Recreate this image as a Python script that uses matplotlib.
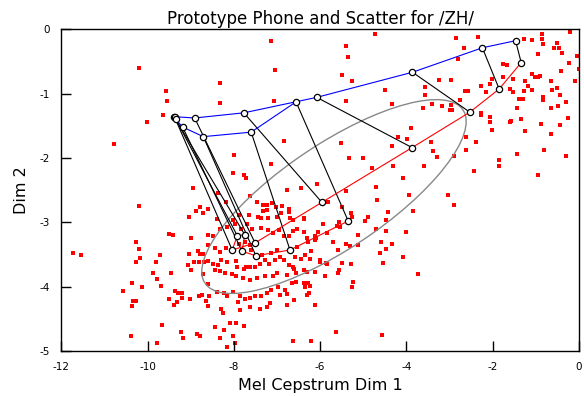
import numpy as np
import matplotlib
matplotlib.use("Agg")
import matplotlib.pyplot as plt
from matplotlib.patches import Ellipse

plt.rcParams['font.family'] = 'DejaVu Sans'
plt.rcParams['axes.unicode_minus'] = False

# prototype phone, 13 frames: upper track (blue) and lower track (red), frame i linked by a black line
blue_x = [-1.47, -2.24, -3.86, -6.08, -7.77, -8.91, -9.38, -9.37, -9.35, -9.19, -8.71, -7.60, -6.56]
blue_y = [-0.18, -0.29, -0.67, -1.06, -1.30, -1.38, -1.36, -1.37, -1.40, -1.52, -1.67, -1.60, -1.13]
red_x = [-1.34, -1.85, -2.53, -3.87, -5.96, -7.51, -8.04, -7.92, -7.75, -7.81, -7.49, -6.70, -5.35]
red_y = [-0.52, -0.93, -1.29, -1.84, -2.69, -3.32, -3.43, -3.21, -3.19, -3.45, -3.52, -3.43, -2.98]

# scatter of /ZH/ frames
upper_right = [
    (-2.86, -0.14), (-2.33, -0.13), (-2.67, -0.29), (-2.80, -0.47), (-0.85, -0.08), (-0.85, -0.15),
    (-0.83, -0.23), (-1.27, -0.15), (-1.10, -0.17), (-0.96, -0.39), (-0.52, -0.21), (-0.59, -0.29),
    (-0.47, -0.30), (-0.39, -0.37), (-0.23, -0.52), (-0.20, -0.05), (-0.05, -0.42), (-0.01, -0.62),
    (-0.10, -0.81), (-0.29, -1.13), (-0.42, -0.65), (-0.64, -0.80), (-0.62, -0.95), (-0.51, -0.92),
    (-0.45, -1.03), (-0.48, -1.20), (-0.66, -1.23), (-0.83, -1.05), (-0.83, -1.10), (-0.94, -0.75),
    (-0.90, -0.73), (-1.01, -0.75), (-1.08, -0.70), (-1.10, -0.94), (-1.24, -0.80), (-1.19, -0.89),
    (-1.27, -0.96), (-1.30, -1.08), (-1.38, -1.09), (-1.44, -1.23), (-1.59, -0.93), (-1.54, -0.98),
    (-1.52, -0.78), (-1.34, -1.40), (-1.24, -1.58), (-1.58, -1.42), (-1.61, -1.44), (-0.87, -1.48),
    (-0.64, -1.63), (-0.44, -1.49), (-0.25, -1.38), (-0.29, -1.97), (-0.80, -1.88), (-0.95, -2.27),
    (-1.75, -0.54), (-1.68, -0.56), (-1.75, -0.75), (-2.01, -0.77), (-2.06, -0.85), (-2.26, -0.88),
    (-2.15, -0.98), (-2.26, -1.31), (-2.27, -1.33), (-2.07, -1.37), (-2.06, -1.45), (-2.02, -1.56),
    (-2.64, -0.96), (-2.57, -0.96), (-2.76, -1.10), (-2.97, -0.79), (-3.25, -0.79), (-3.58, -0.90),
    (-3.57, -1.02), (-3.61, -1.22), (-3.41, -1.17), (-3.18, -1.20), (-2.96, -1.18), (-3.00, -1.26),
    (-2.95, -1.26), (-4.49, -0.94), (-4.34, -1.17), (-4.20, -1.68), (-3.99, -1.71), (-3.90, -1.54),
    (-4.33, -1.82), (-4.32, -2.12), (-4.09, -2.31), (-3.60, -2.13), (-3.39, -1.89), (-3.42, -1.75),
    (-3.29, -1.99), (-2.90, -1.97), (-2.61, -1.88), (-2.39, -1.76), (-2.63, -1.68), (-1.86, -2.04),
    (-1.85, -2.12), (-2.43, -2.20), (-1.44, -1.94),
]
lower_right = [
    (-3.95, -2.58), (-3.04, -2.57), (-2.89, -2.73), (-3.84, -2.82), (-4.42, -2.84), (-4.47, -2.96),
    (-4.47, -3.14), (-4.01, -3.15), (-4.60, -3.30), (-4.34, -3.34), (-4.47, -3.42), (-4.61, -3.47),
    (-4.08, -3.54), (-4.54, -3.63), (-3.73, -3.80), (-4.56, -4.75),
]
middle = [
    (-5.51, -1.77), (-5.33, -2.00), (-5.00, -2.00), (-4.79, -2.15), (-4.70, -2.45), (-5.40, -2.51),
    (-6.08, -2.41), (-6.45, -2.46), (-5.81, -2.68), (-5.49, -2.77), (-5.29, -2.86), (-5.26, -2.91),
    (-4.68, -2.66), (-4.88, -2.91), (-4.97, -2.98), (-4.71, -3.11), (-5.12, -3.19), (-5.56, -2.99),
    (-5.62, -3.05), (-5.53, -3.07), (-5.94, -3.02), (-6.37, -2.93), (-6.37, -2.95), (-6.05, -3.15),
    (-6.37, -3.15), (-6.11, -3.21), (-6.10, -3.24), (-6.30, -3.25),
]
upper_left = [
    (-7.13, -0.19), (-4.72, -0.08), (-5.39, -0.26), (-5.36, -0.44), (-5.50, -0.71), (-5.26, -0.80),
    (-7.05, -0.64), (-8.32, -0.84), (-9.57, -0.96), (-9.55, -1.12), (-9.65, -1.34), (-8.32, -1.14),
    (-7.06, -1.12), (-5.39, -1.12), (-6.84, -1.73), (-7.99, -1.96), (-7.14, -2.10), (-8.01, -2.24),
    (-7.77, -2.27), (-7.71, -2.31), (-10.20, -0.60), (-10.02, -1.45), (-10.77, -1.78),
]
lower_left = [
    (-8.94, -2.47), (-10.21, -2.75), (-8.78, -2.77), (-8.61, -2.79), (-8.89, -2.83), (-8.71, -2.85),
    (-9.03, -2.92), (-9.51, -3.18), (-9.41, -3.20), (-8.60, -3.19), (-9.00, -3.25), (-10.26, -3.30),
    (-10.21, -3.42), (-8.60, -3.36), (-11.74, -3.48), (-11.54, -3.51), (-9.72, -3.51), (-10.18, -3.55),
    (-10.26, -3.62), (-9.81, -3.62), (-9.03, -3.49), (-8.84, -3.45), (-8.79, -3.49), (-8.72, -3.49),
    (-8.70, -3.61), (-8.80, -3.61), (-8.93, -3.62), (-9.06, -3.67), (-9.00, -3.74), (-8.59, -3.60),
    (-9.87, -3.79), (-9.47, -3.78), (-9.79, -3.88), (-8.72, -3.81), (-10.36, -3.95), (-10.12, -4.00),
    (-9.68, -3.99), (-8.60, -3.96), (-10.56, -4.07), (-9.37, -4.06), (-9.20, -4.10), (-9.29, -4.10),
    (-8.82, -4.14), (-8.74, -4.13), (-8.58, -4.14), (-9.50, -4.19), (-9.20, -4.18), (-9.01, -4.19),
    (-10.34, -4.22), (-10.26, -4.22), (-9.32, -4.24), (-10.37, -4.30), (-9.38, -4.28), (-8.65, -4.22),
    (-8.59, -4.30), (-9.66, -4.59), (-10.38, -4.77), (-9.22, -4.70), (-8.86, -4.74), (-8.79, -4.77),
    (-9.18, -4.80), (-9.78, -4.88),
]
core = [
    (-8.36, -2.54), (-7.63, -2.59), (-6.78, -2.50), (-8.18, -2.69), (-7.47, -2.69), (-7.32, -2.73),
    (-7.23, -2.73), (-7.12, -2.70), (-7.03, -2.76), (-6.89, -2.74), (-7.32, -2.82), (-7.24, -2.81),
    (-6.72, -2.80), (-6.72, -2.84), (-8.40, -2.95), (-8.01, -2.96), (-7.88, -2.89), (-7.64, -2.89),
    (-7.43, -2.91), (-7.38, -2.93), (-7.20, -2.93), (-6.99, -2.92), (-6.90, -2.86), (-6.70, -2.94),
    (-6.62, -2.97), (-5.12, -3.36), (-5.29, -3.65), (-5.25, -3.93), (-5.27, -4.00),
    (-8.48, -3.22), (-8.32, -3.11), (-8.15, -3.08), (-7.98, -3.02), (-7.83, -3.11), (-7.69, -3.03),
    (-7.59, -3.11), (-7.38, -3.09), (-7.20, -3.12), (-7.09, -3.17), (-6.96, -3.12), (-6.85, -3.21),
    (-6.73, -3.22), (-6.62, -3.13), (-6.53, -3.11), (-6.28, -3.30), (-6.11, -3.28), (-5.71, -3.30),
    (-5.39, -3.33), (-5.58, -3.43), (-5.87, -3.63), (-6.00, -3.61), (-6.24, -3.57), (-6.44, -3.57),
    (-6.59, -3.54), (-6.36, -3.51), (-6.22, -3.45), (-6.53, -3.39), (-7.01, -3.43), (-7.13, -3.48),
    (-7.34, -3.51), (-7.44, -3.54), (-7.61, -3.43), (-7.63, -3.35), (-7.74, -3.31), (-7.89, -3.34),
    (-8.18, -3.40), (-8.32, -3.46), (-8.44, -3.40),
    (-8.48, -3.65), (-8.37, -3.66), (-8.29, -3.59), (-8.15, -3.61), (-7.94, -3.60), (-7.92, -3.70),
    (-7.77, -3.72), (-7.71, -3.70), (-7.63, -3.69), (-7.51, -3.69), (-7.40, -3.64), (-7.28, -3.59),
    (-7.18, -3.64), (-7.04, -3.59), (-6.92, -3.54), (-6.84, -3.59), (-6.73, -3.66), (-6.62, -3.69),
    (-6.60, -3.73), (-6.38, -3.74), (-6.31, -3.77), (-6.13, -3.77), (-5.89, -3.84), (-5.57, -3.74),
    (-6.55, -3.79), (-6.78, -3.82), (-6.99, -3.79), (-7.09, -3.83), (-7.28, -3.84), (-7.47, -3.87),
    (-7.63, -3.90), (-7.78, -3.87), (-7.94, -3.83), (-8.05, -3.80), (-8.21, -3.79), (-8.32, -3.75),
    (-8.45, -3.74),
    (-8.40, -4.09), (-8.23, -4.10), (-8.17, -4.14), (-8.03, -4.09), (-7.86, -4.15), (-7.90, -4.23),
    (-7.74, -4.19), (-7.63, -4.18), (-7.51, -4.15), (-7.38, -4.14), (-7.23, -4.10), (-7.15, -4.05),
    (-6.97, -4.01), (-6.82, -4.05), (-6.66, -3.95), (-6.55, -3.92), (-6.38, -3.95), (-6.24, -3.99),
    (-6.76, -4.11), (-6.93, -4.13), (-7.16, -4.26), (-7.24, -4.31), (-7.40, -4.35), (-7.63, -4.32),
    (-7.86, -4.36), (-8.29, -4.34), (-8.26, -4.41), (-6.78, -4.28), (-6.61, -4.21), (-6.30, -4.13),
    (-6.12, -4.28), (-5.85, -3.16), (-6.28, -3.94), (-6.35, -4.01), (-6.26, -4.10), (-5.59, -3.79),
    (-5.85, -3.64), (-5.50, -3.63), (-5.30, -3.37), (-6.01, -3.58),
    (-7.95, -4.57), (-7.76, -4.61), (-8.44, -4.63), (-8.23, -4.67), (-8.09, -4.57), (-8.32, -4.79),
    (-8.03, -4.77), (-7.98, -4.88), (-8.15, -4.94), (-6.62, -4.85), (-6.22, -4.84), (-5.63, -4.71),
]

# covariance ellipse of the scatter
ell_center = (-5.68, -2.60)
ell_sx, ell_sy, ell_rho = 3.065, 1.505, 0.774

xticks = [-12, -10, -8, -6, -4, -2, 0]
yticks = [-5, -4, -3, -2, -1, 0]

pts = np.array(upper_right + lower_right + middle + upper_left + lower_left + core)

fig = plt.figure(figsize=(5.84, 3.96), dpi=100)
ax = fig.add_axes([0.1051, 0.1134, 0.8863, 0.8131])

ax.plot(pts[:, 0], pts[:, 1], 's', color='red', ms=2.4, mew=0, zorder=1)

cov = np.array([[ell_sx ** 2, ell_rho * ell_sx * ell_sy],
                [ell_rho * ell_sx * ell_sy, ell_sy ** 2]])
vals, vecs = np.linalg.eigh(cov)
ang = np.degrees(np.arctan2(vecs[1, 1], vecs[0, 1]))
ax.add_patch(Ellipse(ell_center, 2 * np.sqrt(vals[1]), 2 * np.sqrt(vals[0]), angle=ang,
                     fill=False, ec='#888888', lw=1.0, zorder=2))

for bx, by, rx, ry in zip(blue_x, blue_y, red_x, red_y):
    ax.plot([bx, rx], [by, ry], color='black', lw=0.8, zorder=3)
ax.plot(blue_x, blue_y, color='blue', lw=0.8, zorder=3)
ax.plot(red_x, red_y, color='red', lw=0.8, zorder=3)
ax.plot(blue_x, blue_y, 'o', ms=4.5, mfc='white', mec='black', mew=0.9, zorder=4)
ax.plot(red_x, red_y, 'o', ms=4.5, mfc='white', mec='black', mew=0.9, zorder=4)

ax.set_xlim(-12, 0)
ax.set_ylim(-5, 0)
ax.set_xticks(xticks)
ax.set_yticks(yticks)
ax.tick_params(direction='in', length=7, width=1, labelsize=7.5, pad=8,
               top=False, right=False)
for s in ax.spines.values():
    s.set_linewidth(1.0)

ax.set_title('Prototype Phone and Scatter for /ZH/', fontsize=12, pad=4)
ax.set_xlabel('Mel Cepstrum Dim 1', fontsize=11.5, labelpad=4)
ax.set_ylabel('Dim 2', fontsize=11.5, labelpad=8)

fig.savefig('out.png', dpi=100)
